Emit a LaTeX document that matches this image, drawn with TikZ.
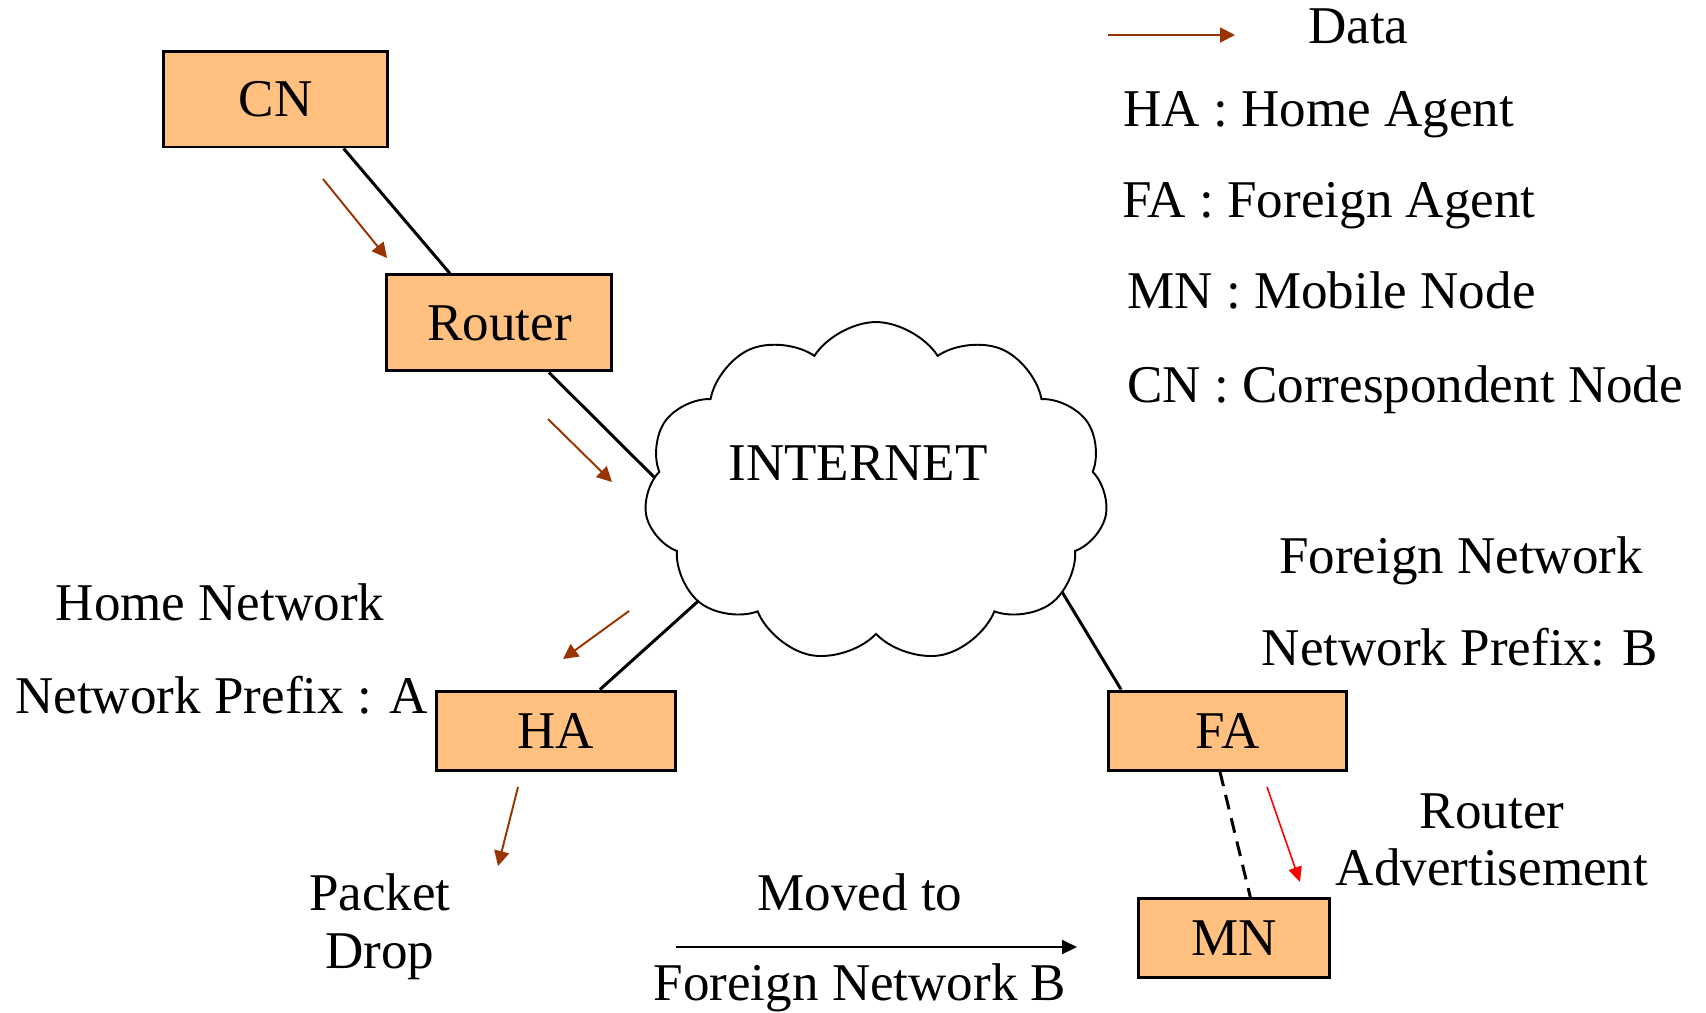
\documentclass[tikz,border=0pt]{standalone}
\usepackage{fontspec}
\setmainfont{Liberation Serif}
\usepackage{xcolor}
\usepackage{tikz}
\usetikzlibrary{arrows.meta,positioning,shapes.symbols,backgrounds}

\definecolor{boxfill}{RGB}{255,192,128}
\definecolor{databrown}{RGB}{153,51,0}

\begin{document}
\begin{tikzpicture}[
    x=0.02cm, y=-0.02cm,
    every node/.style={font=\fontsize{30.2}{36}\selectfont, inner sep=0pt},
    box/.style={rectangle, draw, line width=1.7pt, fill=boxfill, minimum height=1.58cm},
    link/.style={line width=1.7pt},
    data/.style={databrown, line width=1.1pt, -{Triangle[length=0.3cm, width=0.3cm]}},
    txt/.style={anchor=base}
]
    \useasboundingbox (0,0) rectangle (1706,1012);

    % boxes
    \node[box, minimum width=4.5cm, minimum height=1.92cm] (CN) at (275.5,99) {CN};
    \node[box, minimum width=4.5cm, minimum height=1.92cm, below right=2.5cm and -0.08cm of CN] (Router) {Router};
    \node[box, minimum width=4.8cm] (HA) at (556,730.5) {HA};
    \node[box, minimum width=4.76cm, right=8.6cm of HA] (FA) {FA};
    \node[box, minimum width=3.82cm, below=2.52cm of FA, xshift=0.12cm] (MN) {MN};

    % internet cloud
    \node[cloud, draw, fill=white, line width=1.1pt, cloud puffs=11, cloud puff arc=115, aspect=1.36,
          minimum width=9.28cm, minimum height=6.8cm] (net) at (876,492) {};
    \node[txt] (inet) at (858,480) {INTERNET};
    \coordinate (netL) at (665,488);
    \coordinate (netBL) at (735,568);
    \coordinate (netBR) at (1030,539);

    % links
    \begin{scope}[on background layer]
    \draw[link] (CN.-36) -- (Router.135);
    \draw[link] (Router.-45) -- (netL);
    \draw[link] (HA.43) -- (netBL);
    \draw[link] (FA.159) -- (netBR);
    \end{scope}
    \draw[link, dash pattern=on 0.3cm off 0.18cm] (FA.259) -- (MN.68);

    % data flow
    \foreach \s/\e in {{(323,179)}/{(387,258)}, {(548,419)}/{(612,482)},
                       {(629,611)}/{(563,659)}, {(518,787)}/{(498,866)},
                       {(1108,35)}/{(1235,35)}}
        \draw[data] \s -- \e;
    \draw[red, line width=0.9pt, -{Triangle[length=0.3cm, width=0.27cm]}] (1267,787) -- (1300,882);
    \draw[line width=1.1pt, -{Triangle[length=0.3cm, width=0.28cm]}] (676,947) -- (1077,947);

    % legend
    \node[anchor=base west] (dataleg) at (1308,43) {Data};
    \node[anchor=base west] (haleg) at (1123,126) {HA : Home Agent};
    \node[anchor=base west] (faleg) at (1122,217) {FA : Foreign Agent};
    \node[anchor=base west] (mnleg) at (1127,308) {MN : Mobile Node};
    \node[anchor=base west] (cnleg) at (1127,402) {CN : Correspondent Node};

    % labels
    \node[txt] (home) at (220,620) {Home Network};
    \node[anchor=base west] (prefA) at (15,713) {Network Prefix : A};
    \node[txt] (foreign) at (1461,573) {Foreign Network};
    \node[txt] (prefB) at (1460,665) {Network Prefix: B};
    \node[txt] (adv1) at (1492,828) {Router};
    \node[txt] (adv2) at (1492,885) {Advertisement};
    \node[txt] (drop1) at (380,910) {Packet};
    \node[txt] (drop2) at (380,968) {Drop};
    \node[txt] (mv1) at (860,910) {Moved to};
    \node[txt] (mv2) at (860,1000) {Foreign Network B};
\end{tikzpicture}
\end{document}
